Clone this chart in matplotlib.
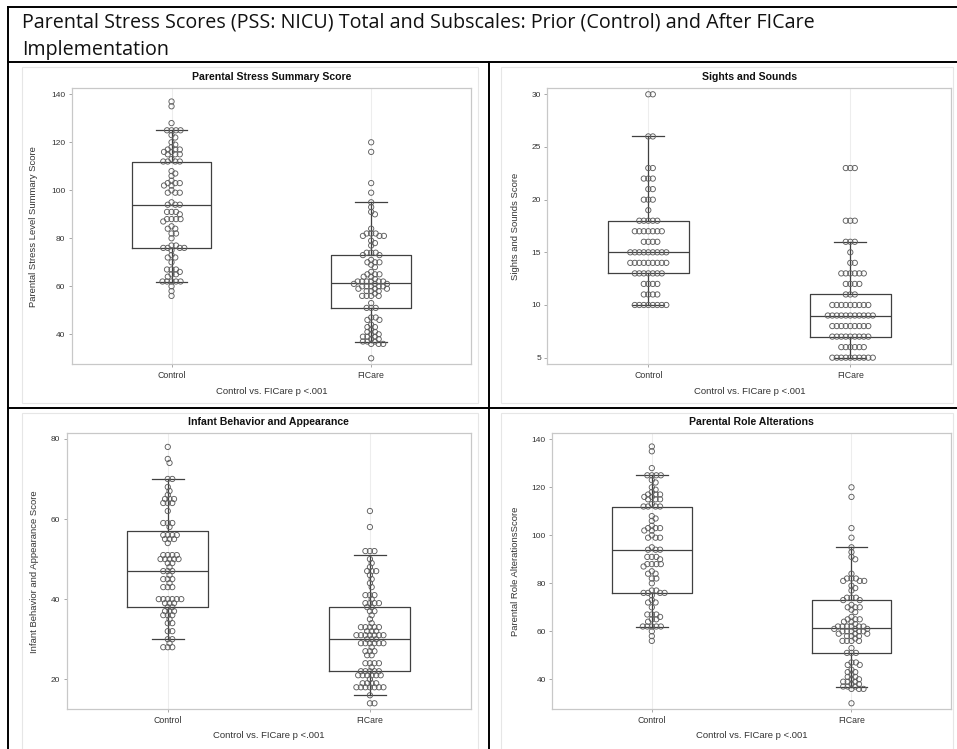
import matplotlib
matplotlib.use('Agg')
import matplotlib.pyplot as plt
from matplotlib.lines import Line2D
from matplotlib.patches import Rectangle
import numpy as np

W, H, DPI = 957, 749, 100

main_title_1 = "Parental Stress Scores (PSS: NICU) Total and Subscales: Prior (Control) and After FICare"
main_title_2 = "Implementation"
groups = ["Control", "FICare"]
xlabel_text = "Control vs. FICare p <.001"

# ---------------- data: Parental Stress Summary Score ----------------
summary_control = [137, 135, 128, 125, 125, 125, 125, 123, 122, 120, 119, 118,
                   117, 117, 117, 116, 116, 115, 115, 115, 113, 112, 112, 112, 112,
                   108, 107, 106, 104, 103, 103, 103, 102, 102, 100, 99, 99, 99,
                   95, 94, 94, 94, 91, 91, 91, 90, 88, 88, 88, 88, 87, 85, 84, 84,
                   82, 82, 80, 77, 77, 76, 76, 76, 76, 75, 73, 72, 72, 70,
                   67, 67, 67, 66, 65, 65, 64, 62, 62, 62, 62, 62, 60, 58, 56]
summary_ficare = [120, 116, 103, 99, 95, 93, 91, 90, 84, 82, 82, 82, 81, 81, 81,
                  79, 78, 77, 74, 74, 74, 73, 73, 71, 70, 70, 70, 69, 68, 66,
                  65, 65, 65, 64, 64, 63, 62, 62, 62, 62, 62, 62, 61, 61, 61,
                  60, 60, 60, 60, 60, 59, 59, 59, 58, 58, 58, 57, 56, 56, 56, 56,
                  53, 51, 51, 51, 47, 47, 46, 46, 44, 43, 43, 42, 41, 41, 40, 40,
                  39, 39, 39, 38, 38, 37, 37, 37, 36, 36, 36, 30]
summary_q1 = [76, 51]
summary_med = [94, 61.5]
summary_q3 = [112, 73]
summary_whislo = [62, 37]
summary_whishi = [125, 95]

# ---------------- data: Sights and Sounds ----------------
sights_control = [30, 30, 26, 26, 23, 23, 22, 22, 22, 21, 21, 20, 20, 20, 19,
                  18, 18, 18, 18, 18, 17, 17, 17, 17, 17, 17, 17, 16, 16, 16, 16,
                  15, 15, 15, 15, 15, 15, 15, 15, 15, 14, 14, 14, 14, 14, 14, 14, 14, 14,
                  13, 13, 13, 13, 13, 13, 13, 12, 12, 12, 12, 11, 11, 11, 11,
                  10, 10, 10, 10, 10, 10, 10, 10]
sights_ficare = [23, 23, 23, 18, 18, 18, 16, 16, 16, 15, 14, 14,
                 13, 13, 13, 13, 13, 13, 12, 12, 12, 12, 11, 11, 11,
                 10, 10, 10, 10, 10, 10, 10, 10, 10, 9, 9, 9, 9, 9, 9, 9, 9, 9, 9, 9,
                 8, 8, 8, 8, 8, 8, 8, 8, 8, 7, 7, 7, 7, 7, 7, 7, 7, 7,
                 6, 6, 6, 6, 6, 6, 5, 5, 5, 5, 5, 5, 5, 5, 5, 5]
sights_q1 = [13, 7]
sights_med = [15, 9]
sights_q3 = [18, 11]
sights_whislo = [10, 5]
sights_whishi = [26, 16]

# ---------------- data: Infant Behavior and Appearance ----------------
infant_control = [78, 75, 74, 70, 70, 68, 67, 66, 65, 65, 65, 64, 64, 64, 62,
                  59, 59, 59, 58, 56, 56, 56, 56, 55, 55, 55, 54, 51, 51, 51, 51,
                  50, 50, 50, 50, 50, 49, 49, 48, 47, 47, 47, 46, 45, 45, 45, 44,
                  43, 43, 43, 40, 40, 40, 40, 40, 40, 39, 39, 39, 38, 38, 37, 37, 37,
                  36, 36, 36, 35, 34, 34, 32, 32, 30, 30, 29, 28, 28, 28]
infant_ficare = [62, 58, 52, 52, 52, 50, 49, 48, 47, 47, 47, 46, 45, 44, 43,
                 41, 41, 41, 40, 39, 39, 39, 39, 38, 38, 37, 37, 36, 35, 34,
                 33, 33, 33, 33, 33, 32, 32, 32, 31, 31, 31, 31, 31, 31, 31,
                 30, 30, 30, 29, 29, 29, 29, 29, 29, 28, 27, 27, 27, 26, 26,
                 24, 24, 24, 24, 23, 22, 22, 22, 22, 22, 21, 21, 21, 21, 21, 21,
                 20, 19, 19, 19, 19, 18, 18, 18, 18, 18, 18, 18, 16, 14, 14]
infant_q1 = [38, 22]
infant_med = [47, 30]
infant_q3 = [57, 38]
infant_whislo = [30, 16]
infant_whishi = [70, 51]

# ---------------- data: Parental Role Alterations ----------------
role_control = list(summary_control)
role_ficare = list(summary_ficare)
role_q1 = [76, 51]
role_med = [94, 61.5]
role_q3 = [112, 73]
role_whislo = [62, 37]
role_whishi = [125, 95]

panels = [
    dict(title="Parental Stress Summary Score", ylabel="Parental Stress Level Summary Score",
         data=[summary_control, summary_ficare], q1=summary_q1, med=summary_med, q3=summary_q3,
         lo=summary_whislo, hi=summary_whishi, yticks=[40, 60, 80, 100, 120, 140],
         ylim=(27.5, 142.5), rect=(71.7, 471, 88.3, 364.3), ylab_x=34, title_y=77.3,
         ticklab_y=375.3, xlab_y=391.7),
    dict(title="Sights and Sounds", ylabel="Sights and Sounds Score",
         data=[sights_control, sights_ficare], q1=sights_q1, med=sights_med, q3=sights_q3,
         lo=sights_whislo, hi=sights_whishi, yticks=[5, 10, 15, 20, 25, 30],
         ylim=(4.37, 30.57), rect=(547.3, 951.3, 88.3, 364.3), ylab_x=515.7, title_y=77.3,
         ticklab_y=375.3, xlab_y=391.7),
    dict(title="Infant Behavior and Appearance", ylabel="Infant Behavior and Appearance Score",
         data=[infant_control, infant_ficare], q1=infant_q1, med=infant_med, q3=infant_q3,
         lo=infant_whislo, hi=infant_whishi, yticks=[20, 40, 60, 80],
         ylim=(12.5, 81.4), rect=(66.7, 471, 433.3, 709.3), ylab_x=34.3, title_y=422.3,
         ticklab_y=720.3, xlab_y=736),
    dict(title="Parental Role Alterations", ylabel="Parental Role AlterationsScore",
         data=[role_control, role_ficare], q1=role_q1, med=role_med, q3=role_q3,
         lo=role_whislo, hi=role_whishi, yticks=[40, 60, 80, 100, 120, 140],
         ylim=(27.5, 142.5), rect=(552, 951.3, 433.3, 709.3), ylab_x=515.7, title_y=422.3,
         ticklab_y=720.3, xlab_y=736),
]

FONT = ["Liberation Sans", "DejaVu Sans"]
TITLE_FONT = ["Open Sans", "DejaVu Sans"]
BOXC = "#404040"
PTC = "#5e5e5e"


def fx(px):
    return px / W


def fy(py):
    return 1 - py / H


def swarm(vals, ypx, spacing):
    vals = np.asarray(vals, float)
    order = np.argsort(-vals, kind="stable")
    placed = []
    offs = np.zeros(len(vals))
    step = 0.25
    for i in order:
        y = vals[i] * ypx
        k = 0
        while True:
            cand = (k + 1) // 2 * step * (1 if k % 2 == 1 else -1) if k > 0 else 0.0
            ok = True
            for (px_, py_) in placed:
                if abs(py_ - y) < spacing and (px_ - cand) ** 2 + (py_ - y) ** 2 < spacing ** 2 - 1e-9:
                    ok = False
                    break
            if ok:
                break
            k += 1
        placed.append((cand, y))
        offs[i] = cand
    return offs


fig = plt.figure(figsize=(W / DPI, H / DPI), dpi=DPI)

# table lines
lw_tab = 1.4
for (x0, y0, x1, y1) in [(8, 7, 957, 7), (8, 62, 957, 62), (8, 408, 957, 408),
                         (8, 7, 8, 749), (489, 62, 489, 749)]:
    fig.add_artist(Line2D([fx(x0), fx(x1)], [fy(y0), fy(y1)], color="black", lw=lw_tab))

# faint image borders
for (x0, y0, x1, y1) in [(22, 67, 478, 403), (501, 67, 953, 403),
                         (22, 413, 478, 760), (501, 413, 953, 760)]:
    fig.add_artist(Rectangle((fx(x0), fy(y1)), fx(x1) - fx(x0), fy(y0) - fy(y1),
                             fill=False, ec="#e6e6e6", lw=0.8))

t1 = fig.text(fx(22), fy(27.3), main_title_1, family=TITLE_FONT, fontsize=12,
              va="baseline", ha="left", color="#111111")
renderer = fig.canvas.get_renderer()
wpx = t1.get_window_extent(renderer).width
fs_main = 12 * (812 - 22) / wpx
t1.set_fontsize(fs_main)
fig.text(fx(22), fy(55), main_title_2, family=TITLE_FONT, fontsize=fs_main,
         va="baseline", ha="left", color="#111111")

for p in panels:
    l, r, t, b = p["rect"]
    ax = fig.add_axes([fx(l), fy(b), fx(r) - fx(l), fy(t) - fy(b)])
    ax.set_xlim(-0.5, 1.5)
    ax.set_ylim(*p["ylim"])
    ypx = (b - t) / (p["ylim"][1] - p["ylim"][0])
    xpx = (r - l) / 2.0

    for xpos in range(len(groups)):
        ax.axvline(xpos, color="#ededed", lw=0.8, zorder=0)

    stats = []
    for i, g in enumerate(groups):
        stats.append(dict(med=p["med"][i], q1=p["q1"][i], q3=p["q3"][i],
                          whislo=p["lo"][i], whishi=p["hi"][i], fliers=[], label=g))
    lp = dict(color=BOXC, lw=0.9)
    ax.bxp(stats, positions=range(len(groups)), widths=0.4, capwidths=0.16, showfliers=False,
           boxprops=lp, whiskerprops=lp, capprops=lp, medianprops=lp, zorder=2)

    for i, vals in enumerate(p["data"]):
        offs = swarm(vals, ypx, 4.3) / xpx
        ax.scatter(i + offs, vals, s=(3.8) ** 2, facecolors="none", edgecolors=PTC,
                   linewidths=0.65, zorder=3)

    for sp in ax.spines.values():
        sp.set_color("#c8c8c8")
        sp.set_linewidth(0.9)
    ax.set_yticks(p["yticks"])
    ax.set_yticklabels([str(v) for v in p["yticks"]], family=FONT, fontsize=6, color="#333333")
    ax.set_xticks(range(len(groups)))
    ax.set_xticklabels([])
    ax.tick_params(axis="both", length=2.5, width=0.6, color="#9a9a9a", pad=2)

    cx = (l + r) / 2
    cy = (t + b) / 2
    fig.text(fx(cx), fy(p["title_y"]), p["title"], family=FONT, fontsize=7.6, fontweight="bold",
             ha="center", va="center", color="#111111")
    fig.text(fx(p["ylab_x"]), fy(cy), p["ylabel"], family=FONT, fontsize=6.8, rotation=90,
             ha="center", va="center", color="#333333")
    fig.text(fx(cx), fy(p["xlab_y"]), xlabel_text, family=FONT, fontsize=6.8,
             ha="center", va="center", color="#333333")
    for i, g in enumerate(groups):
        xd = l + (i + 0.5) * (r - l) / 2
        fig.text(fx(xd), fy(p["ticklab_y"]), g, family=FONT, fontsize=6.3,
                 ha="center", va="center", color="#333333")

fig.savefig("out.png", dpi=DPI)
